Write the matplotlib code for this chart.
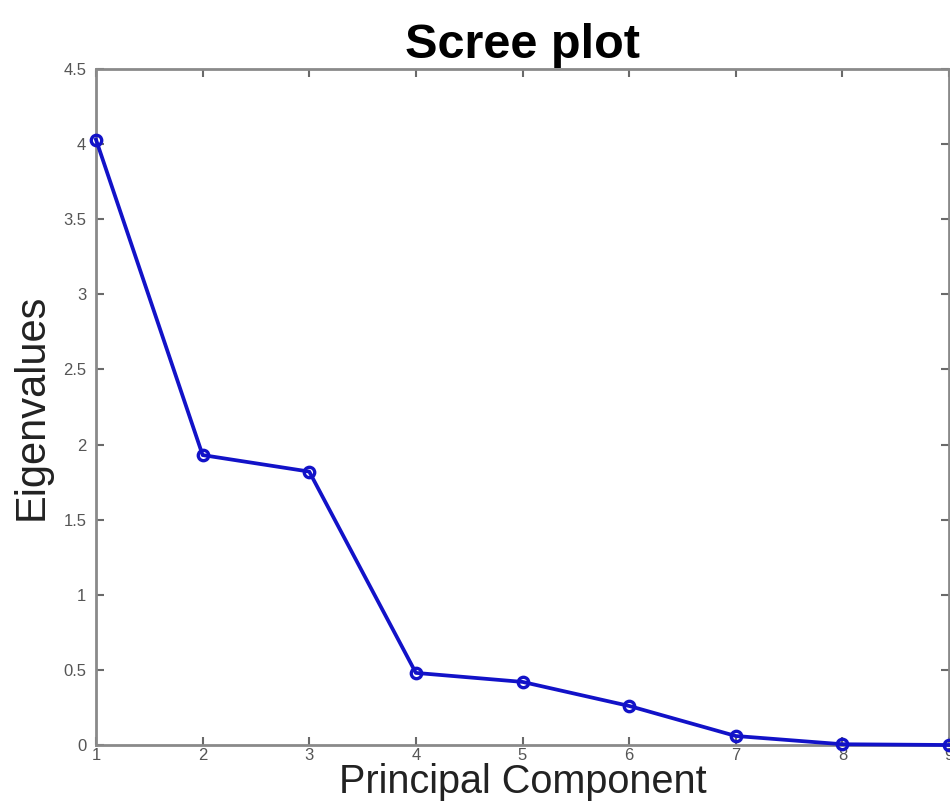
import matplotlib.pyplot as plt
import numpy as np

plt.rcParams['font.family'] = ['Liberation Sans', 'DejaVu Sans']

# Data
components = [1, 2, 3, 4, 5, 6, 7, 8, 9]
eigenvalues = [4.03, 1.93, 1.82, 0.48, 0.42, 0.26, 0.06, 0.005, 0.0]
yticks = [0, 0.5, 1, 1.5, 2, 2.5, 3, 3.5, 4, 4.5]
ytick_labels = ['0', '0.5', '1', '1.5', '2', '2.5', '3', '3.5', '4', '4.5']

fig = plt.figure(figsize=(9.5, 8.06), dpi=100)
ax = fig.add_axes([96 / 950, 1 - 745 / 806, 853 / 950, 676 / 806])

ax.plot(components, eigenvalues, '-o', color='#1212c8', linewidth=2.7,
        markersize=7.5, markerfacecolor='none', markeredgewidth=2.4,
        clip_on=False, zorder=5)

ax.set_xlim(1, 9)
ax.set_ylim(0, 4.5)
ax.set_xticks(components)
ax.set_yticks(yticks)
ax.set_yticklabels(ytick_labels)

for s in ax.spines.values():
    s.set_color('#8a8a8a')
    s.set_linewidth(2)

ax.tick_params(direction='in', length=6, width=1.5, color='#6a6a6a',
               labelsize=12, labelcolor='#555555', top=True, right=True)
ax.tick_params(axis='x', pad=2)
ax.tick_params(axis='y', pad=7)

ax.set_xlabel('Principal Component', fontsize=28.5, color='#222222', labelpad=0)
ax.set_ylabel('Eigenvalues', fontsize=30, color='#222222', labelpad=8)
ax.set_title('Scree plot', fontsize=35, fontweight='bold', pad=8)

plt.savefig('out.png', dpi=100)
